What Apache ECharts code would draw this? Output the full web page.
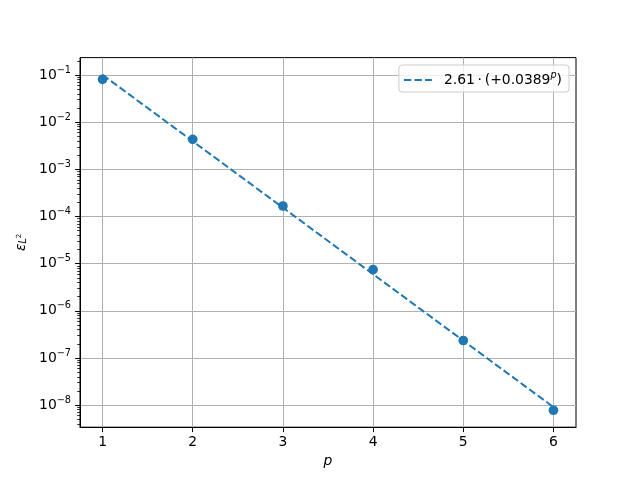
<!DOCTYPE html>
<html>
<head>
<meta charset="utf-8">
<script src="https://cdn.jsdelivr.net/npm/echarts@6/dist/echarts.min.js"></script>
<style>
  html, body { margin: 0; padding: 0; background: #fff; }
  #chart { width: 640px; height: 480px; }
</style>
</head>
<body>
<div id="chart"></div>
<script>
// measured error per polynomial degree p
var degrees = [1, 2, 3, 4, 5, 6];
var errors = [0.081, 4.33e-3, 1.67e-4, 7.46e-6, 2.35e-7, 7.8e-9];
// fitted curve 2.61 * 0.0389^p
var fitValues = [0.101, 3.95e-3, 1.54e-4, 5.98e-6, 2.33e-7, 9.1e-9];
var fitName = 'fit';

var xTicks = [1, 2, 3, 4, 5, 6];
var yTicks = [1e-8, 1e-7, 1e-6, 1e-5, 1e-4, 1e-3, 1e-2, 1e-1];

var yMin = 3.41e-9, yMax = 0.234;

// minor ticks of the log axis (2..9 inside each decade)
var yMinor = [];
for (var e = -9; e <= -1; e++) {
  for (var k = 2; k <= 9; k++) {
    var v = k * Math.pow(10, e);
    if (v >= yMin && v <= yMax) yMinor.push(v);
  }
}

var blue = '#1f77b4';
var font = 'DejaVu Sans';

function expLabel(val) {
  var n = Math.round(Math.log10(val));
  return '{b|10}{s|\u2212' + Math.abs(n) + '}';
}

var chart = echarts.init(document.getElementById('chart'), null, {renderer: 'canvas'});

var option = {
  animation: false,
  backgroundColor: '#fff',
  textStyle: { fontFamily: font },
  grid: {
    left: 80, right: 64, top: 57.6, bottom: 52.8,
    show: true, borderColor: '#000', borderWidth: 1, backgroundColor: 'transparent'
  },
  legend: {
    data: [fitName],
    right: 71, top: 65,
    padding: [5, 7, 5, 4],
    backgroundColor: 'rgba(255,255,255,0.8)',
    borderColor: '#cccccc', borderWidth: 1, borderRadius: 3,
    itemWidth: 28, itemHeight: 12, itemGap: 10,
    itemStyle: { opacity: 0, borderWidth: 0 },
    formatter: function () { return '{g|2.61\u2009\u00b7\u2009(+0.0389}{sup|p}{a|)}'; },
    textStyle: {
      fontFamily: font, fontSize: 13.9, color: '#000',
      rich: {
        g: { fontFamily: font, fontSize: 13.9, color: '#000', padding: [0, 0, 0, 7] },
        a: { fontFamily: font, fontSize: 13.9, color: '#000' },
        sup: { fontFamily: font, fontSize: 9.7, fontStyle: 'italic', color: '#000', padding: [0, 0, 10, 0] }
      }
    }
  },
  xAxis: {
    type: 'value',
    min: 0.75, max: 6.25,
    name: 'p',
    nameLocation: 'middle',
    nameGap: 25,
    nameTextStyle: { fontFamily: font, fontSize: 13.9, fontStyle: 'italic', color: '#000' },
    axisLine: { show: true, lineStyle: { color: '#000', width: 1 } },
    axisTick: { show: true, inside: false, length: 4.9, customValues: xTicks, lineStyle: { color: '#000', width: 1 } },
    axisLabel: { customValues: xTicks, margin: 8, fontFamily: font, fontSize: 13.9, color: '#000' },
    splitLine: { show: true, lineStyle: { color: '#b0b0b0', width: 1 } }
  },
  yAxis: [
    {
      type: 'log',
      logBase: 10,
      min: yMin, max: yMax,
      name: '{e|\u03b5}{l|L}{t|2}',
      nameLocation: 'middle',
      nameRotate: 90,
      nameGap: 48,
      nameTextStyle: {
        color: '#000',
        rich: {
          e: { fontFamily: font, fontSize: 13.9, fontStyle: 'italic', color: '#000' },
          l: { fontFamily: font, fontSize: 9.7, fontStyle: 'italic', color: '#000', padding: [4, 0, 0, 0] },
          t: { fontFamily: font, fontSize: 7, color: '#000', padding: [0, 0, 4, 0] }
        }
      },
      axisLine: { show: true, lineStyle: { color: '#000', width: 1 } },
      axisTick: { show: true, inside: false, length: 4.9, customValues: yTicks, lineStyle: { color: '#000', width: 1 } },
      axisLabel: {
        customValues: yTicks,
        margin: 9,
        formatter: expLabel,
        rich: {
          b: { fontFamily: font, fontSize: 13.9, color: '#000' },
          s: { fontFamily: font, fontSize: 9.7, color: '#000', padding: [0, 0, 10, 0] }
        }
      },
      splitLine: { show: true, lineStyle: { color: '#b0b0b0', width: 1 } }
    },
    {
      type: 'log',
      logBase: 10,
      min: yMin, max: yMax,
      position: 'left',
      axisLine: { show: false },
      axisTick: { show: true, inside: false, length: 2.8, customValues: yMinor, lineStyle: { color: '#000', width: 0.8 } },
      axisLabel: { show: false },
      splitLine: { show: false }
    }
  ],
  series: [
    {
      type: 'scatter',
      name: 'data',
      data: degrees.map(function (p, i) { return [p, errors[i]]; }),
      symbol: 'circle',
      symbolSize: 9.7,
      itemStyle: { color: blue, opacity: 1 },
      z: 2
    },
    {
      type: 'line',
      name: fitName,
      data: degrees.map(function (p, i) { return [p, fitValues[i]]; }),
      symbol: 'none',
      showSymbol: false,
      lineStyle: { color: blue, width: 2, type: [7.4, 3.2] },
      itemStyle: { color: blue },
      z: 3
    }
  ]
};

chart.setOption(option);
</script>
</body>
</html>
